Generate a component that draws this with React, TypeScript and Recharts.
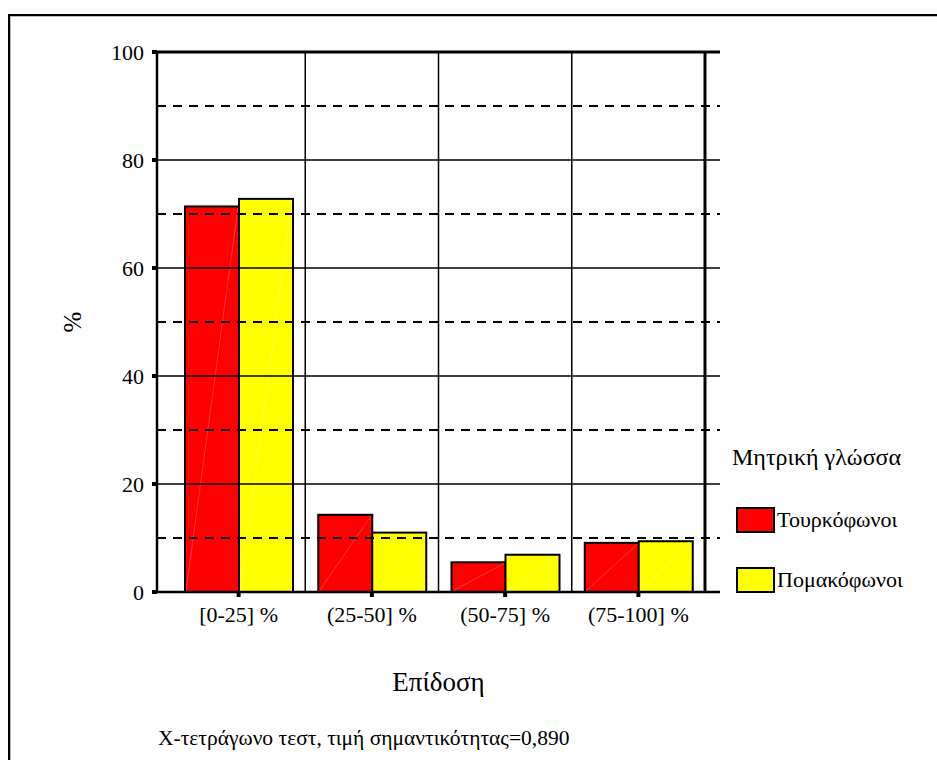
import { BarChart, Bar, XAxis, YAxis, Legend, ReferenceLine } from 'recharts'

const categories = ['[0-25] %', '(25-50] %', '(50-75] %', '(75-100] %']
const turkishSpeakers = [71.4, 14.3, 5.5, 9.1]
const pomakSpeakers = [72.8, 11.0, 6.9, 9.4]
const yTicks = [0, 20, 40, 60, 80, 100]
const solidLines = [20, 40, 60, 80, 100]
const dashedLines = [10, 30, 50, 70, 90]

const seriesNames = ['Τουρκόφωνοι', 'Πομακόφωνοι']
const seriesColors = ['#ff0000', '#ffff00']

const data = categories.map((name, i) => ({
  name,
  turkish: turkishSpeakers[i],
  pomak: pomakSpeakers[i],
}))

const font = 'Liberation Serif'

function DiagonalBar(props: any) {
  const { x, y, width, height, fill } = props
  if (!height || height <= 0) return null
  return (
    <g>
      <rect x={x} y={y} width={width} height={height} fill={fill} stroke="#000" strokeWidth={2} />
      <line
        x1={x + 1}
        y1={y + height - 1}
        x2={x + width - 1}
        y2={y + 1}
        stroke="#ffffff"
        strokeOpacity={0.35}
        strokeWidth={0.6}
      />
    </g>
  )
}

function LegendBox() {
  return (
    <div style={{ fontFamily: font, color: '#000', textAlign: 'left' }}>
      <div style={{ fontSize: 24, lineHeight: '28px', marginBottom: 36, whiteSpace: 'nowrap' }}>Μητρική γλώσσα</div>
      {seriesNames.map((name, i) => (
        <div
          key={name}
          style={{ display: 'flex', alignItems: 'center', height: 26, marginBottom: i === 0 ? 34 : 0 }}
        >
          <div
            style={{
              width: 35,
              height: 22,
              marginLeft: 4,
              background: seriesColors[i],
              border: '2px solid #000',
            }}
          />
          <span style={{ fontSize: 22, marginLeft: 2, whiteSpace: 'nowrap' }}>{name}</span>
        </div>
      ))}
    </div>
  )
}

export default function App() {
  return (
    <div
      style={{
        position: 'absolute',
        left: 0,
        top: 0,
        width: 937,
        height: 760,
        overflow: 'hidden',
        background: '#fff',
        fontFamily: font,
      }}
    >
      <div
        style={{
          position: 'absolute',
          left: 8,
          top: 14,
          width: 1200,
          height: 1200,
          border: '2px solid #000',
          boxShadow: '1px 1px 0 #bbb inset',
        }}
      />
      <BarChart
        width={937}
        height={760}
        data={data}
        margin={{ top: 52, right: 217, bottom: 56, left: 0 }}
        barCategoryGap={13}
        barGap={0}
        style={{ position: 'absolute', left: 0, top: 0, fontFamily: font }}
      >
        {dashedLines.map((v) => (
          <ReferenceLine key={'d' + v} y={v} stroke="#000" strokeWidth={2} strokeDasharray="9 7" />
        ))}
        {solidLines.map((v) => (
          <ReferenceLine key={'s' + v} y={v} stroke="#000" strokeWidth={v === 100 ? 3 : 1.5} />
        ))}
        {categories.slice(1).map((c) => (
          <ReferenceLine key={'v' + c} x={c} position="start" stroke="#000" strokeWidth={1.5} />
        ))}
        <ReferenceLine x={categories[categories.length - 1]} position="end" stroke="#000" strokeWidth={3} />
        <XAxis
          dataKey="name"
          height={112}
          padding={{ left: 15, right: 15 }}
          axisLine={{ stroke: '#000', strokeWidth: 2.5 }}
          tickLine={{ stroke: '#000', strokeWidth: 4 }}
          tickSize={5}
          tickMargin={9}
          tick={{ fontSize: 22, fill: '#000', fontFamily: font }}
          label={{ value: 'Επίδοση', position: 'insideBottom', offset: 13, fontSize: 27, fill: '#000', fontFamily: font }}
        />
        <YAxis
          width={157}
          domain={[0, 100]}
          ticks={yTicks}
          axisLine={{ stroke: '#000', strokeWidth: 2.5 }}
          tickLine={{ stroke: '#000', strokeWidth: 4 }}
          tickSize={5}
          tickMargin={8}
          tick={{ fontSize: 22, fill: '#000', fontFamily: font }}
          label={{ value: '%', angle: -90, position: 'center', dx: -6, fontSize: 25, fill: '#000', fontFamily: font }}
        />
        <Legend
          layout="horizontal"
          align="center"
          verticalAlign="middle"
          content={() => <LegendBox />}
          wrapperStyle={{ position: 'absolute', left: 732, top: 443, width: 205 }}
        />
        <Bar dataKey="turkish" name={seriesNames[0]} fill={seriesColors[0]} shape={DiagonalBar} isAnimationActive={false} />
        <Bar dataKey="pomak" name={seriesNames[1]} fill={seriesColors[1]} shape={DiagonalBar} isAnimationActive={false} />
      </BarChart>
      <div
        style={{
          position: 'absolute',
          left: 158,
          top: 726,
          fontFamily: font,
          fontSize: 21.5,
          lineHeight: '24px',
          color: '#000',
          whiteSpace: 'nowrap',
        }}
      >
        Χ-τετράγωνο τεστ, τιμή σημαντικότητας=0,890
      </div>
    </div>
  )
}
